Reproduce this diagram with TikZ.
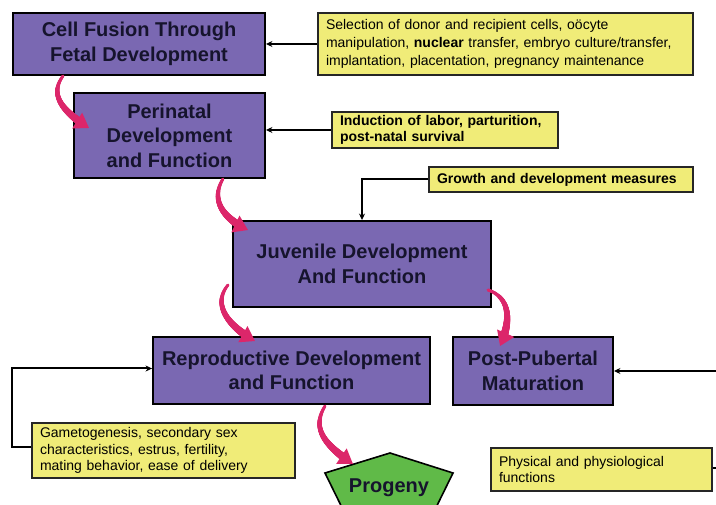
\documentclass[tikz,border=0pt]{standalone}
\usepackage{fontspec}
\setmainfont{Liberation Sans}
\usetikzlibrary{arrows.meta,calc,decorations.markings}
\definecolor{boxpurple}{RGB}{122,104,178}
\definecolor{noteyellow}{RGB}{240,236,120}
\definecolor{arrowpink}{RGB}{220,38,106}
\definecolor{pentgreen}{RGB}{96,186,72}
\definecolor{boxtext}{RGB}{22,20,45}
\begin{document}
\begin{tikzpicture}[x=1pt,y=-1pt,
  stage/.style={draw=black, line width=1.9pt, fill=boxpurple, text=boxtext,
    font=\bfseries\fontsize{20}{24.5}\selectfont, align=center, inner sep=0pt},
  note/.style={draw=black!85, line width=1.4pt, fill=noteyellow,
    font=\fontsize{14}{18}\selectfont, align=left, inner xsep=8pt, inner ysep=0pt},
  feed/.style={draw=black, line width=2pt, -{Stealth[length=6.5pt,width=6pt]}},
  flow/.style={draw=arrowpink, line width=2.6pt, -{Triangle[length=14pt,width=18pt]},
    postaction={decorate},
    decoration={markings, mark=between positions 0 and -9pt step 0.4pt with {%
      \pgfmathsetmacro\tr{1.4+3.0*\pgfkeysvalueof{/pgf/decoration/mark info/distance from start}/\pgfdecoratedpathlength}%
      \fill[arrowpink] (0,0) circle (\tr pt);}}},
  pent/.style={draw=black, line width=1.6pt, fill=pentgreen},
]
\clip (0,0) rectangle (716,505);
\fill[white] (0,0) rectangle (716,505);

% stage boxes
\node[stage, minimum width=252pt, minimum height=62pt] (cf) at (139,44) {Cell Fusion Through\\Fetal Development};
\node[stage, minimum width=191pt, minimum height=85pt] (pn) at (169.5,135.5) {Perinatal\\Development\\and Function};
\node[stage, minimum width=258pt, minimum height=86pt] (jv) at (362,264) {Juvenile Development\\And Function};
\node[stage, minimum width=277pt, minimum height=67pt] (rp) at (291.5,370.5) {Reproductive Development\\and Function};
\node[stage, minimum width=160pt, minimum height=68pt] (pp) at (533,371) {Post-Pubertal\\Maturation};

% notes
\node[note, text width=359pt, minimum height=62pt] (n1) at (505.5,44) {Selection of donor and recipient cells, oöcyte\\manipulation, \textbf{nuclear} transfer, embryo culture/transfer,\\implantation, placentation, pregnancy maintenance};
\node[note, font=\bfseries\fontsize{14}{15.5}\selectfont, text width=210pt, minimum height=36pt] (n2) at (445,130) {Induction of labor, parturition,\\post-natal survival};
\node[note, font=\bfseries\fontsize{14}{17}\selectfont, text width=248pt, minimum height=25pt] (n3) at (561,179.5) {Growth and development measures};
\node[note, font=\fontsize{14}{16.5}\selectfont, text width=247pt, minimum height=55pt] (n4) at (163.5,450.5) {Gametogenesis, secondary sex\\characteristics, estrus, fertility,\\mating behavior, ease of delivery};
\node[note, font=\fontsize{14}{16.5}\selectfont, text width=205pt, minimum height=43pt] (n5) at (601.5,469.5) {Physical and physiological\\functions};

% progeny pentagon
\coordinate (pgc) at (389,488);
\draw[pent] ($(pgc)+(1,-35)$) -- ($(pgc)+(-64,-15)$) -- ($(pgc)+(-36,42)$) -- ($(pgc)+(36,42)$) -- ($(pgc)+(64,-15)$) -- cycle;
\node[font=\bfseries\fontsize{20}{24}\selectfont, text=boxtext] (pg) at (pgc) {Progeny};
\coordinate (pgin) at ($(pgc)+(-36,-24)$);

% feedback connectors
\draw[feed] (n1.west) -- (n1.west -| cf.east);
\draw[feed] (n2.west) -- (n2.west -| pn.east);
\draw[feed] (n3.west) -| (jv.north);
\draw[feed] ($(n4.west)+(0,-3)$) -- ++(-19,0) |- ($(rp.west)+(0,-2)$);
\draw[feed] ($(n5.east)+(0,-1)$) -- ++(20,0) |- (pp.east);

% developmental flow arrows
\draw[flow] ($(cf.south west)+(51,0)$) .. controls +(-12,16) and +(-32,-20) .. ($(pn.west)+(16,-7.5)$);
\draw[flow] ($(pn.south east)+(-43,0)$) .. controls +(-12,20) and +(-27,-13) .. ($(jv.north west)+(16,10)$);
\draw[flow] ($(jv.south west)+(-4,-23)$) .. controls +(-15,18) and +(-30,-17) .. ($(rp.north west)+(103,5)$);
\draw[flow] ($(jv.south east)+(-4,-18)$) .. controls +(18,6) and +(14,-32) .. ($(pp.north west)+(48,10)$);
\draw[flow] ($(rp.south west)+(173,1)$) .. controls +(-14,23) and +(-28,-19) .. (pgin);
\end{tikzpicture}
\end{document}
